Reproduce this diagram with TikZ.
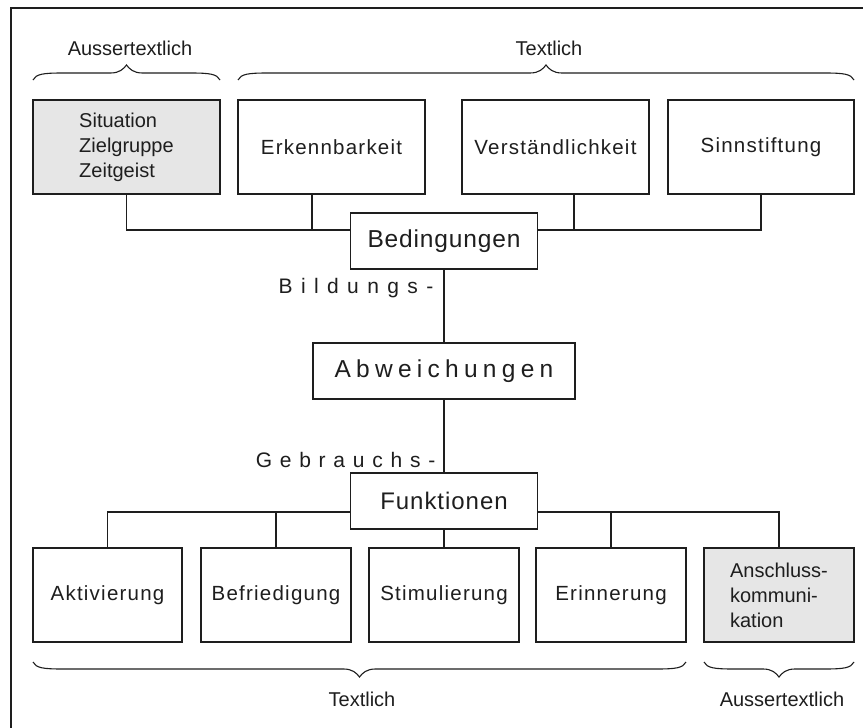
\documentclass[tikz,border=0pt]{standalone}
\usepackage{fontspec}
\setmainfont{Liberation Sans}
\newfontfamily\fBox[LetterSpace=6]{Liberation Sans}
\newfontfamily\fMulti{Liberation Sans}
\newfontfamily\fMid[LetterSpace=3.5]{Liberation Sans}
\newfontfamily\fFkt[LetterSpace=4]{Liberation Sans}
\newfontfamily\fAbw[LetterSpace=21.5]{Liberation Sans}
\newfontfamily\fWideA[LetterSpace=40]{Liberation Sans}
\newfontfamily\fWideB[LetterSpace=37]{Liberation Sans}
\newfontfamily\fLab{Liberation Sans}
\definecolor{boxgray}{HTML}{E6E6E6}
\definecolor{ink}{HTML}{1E1E1E}
\newcommand\mybrace[4]{%
  \pgfmathsetmacro\bxm{(#1+#2)/2}%
  \pgfmathsetmacro\bh{(#2-#1)/2}%
  \begin{scope}[shift={(\bxm,#3)},yscale=#4]
    \draw[bracestyle] (-\bh,7) .. controls (-\bh+3,1) and (-\bh+10,0) .. (-\bh+30,0)
      -- (-16,0) .. controls (-7,0) and (-3,-4) .. (0,-8)
      .. controls (3,-4) and (7,0) .. (16,0)
      -- (\bh-30,0) .. controls (\bh-10,0) and (\bh-3,1) .. (\bh,7);
  \end{scope}}
\begin{document}
\begin{tikzpicture}[x=1pt,y=-1pt,
  line width=1.2pt, draw=ink,
  bracestyle/.style={line width=1.1pt, draw=ink},
  base/.style={draw=ink, line width=1.2pt, rectangle, inner sep=0pt, text=ink, fill=white},
  tbox/.style={base, minimum width=187pt, minimum height=94pt, font=\fBox\fontsize{20.5}{25}\selectfont},
  bbox/.style={base, minimum width=150pt, minimum height=94pt, font=\fBox\fontsize{20.5}{25}\selectfont},
  mbox/.style={align=left, font=\fMulti\fontsize{20}{25}\selectfont, fill=boxgray},
  hbox/.style={base, minimum width=187pt, minimum height=56pt, font=\fMid\fontsize{24.5}{28}\selectfont},
  abox/.style={base, minimum width=262pt, minimum height=56pt, font=\fAbw\fontsize{24.5}{28}\selectfont},
  wlab/.style={anchor=east, inner sep=0pt, text=ink},
  glab/.style={inner sep=0pt, text=ink, font=\fLab\fontsize{20}{24}\selectfont}]
\useasboundingbox (0,0) rectangle (863,728);
\clip (0,0) rectangle (863,728);
\fill[white] (0,0) rectangle (863,728);
\draw[line width=1.2pt] (11,8) rectangle (880,745);

% top row
\node[tbox,mbox] (sit) at (126.5,147) {Situation\\Zielgruppe\\Zeitgeist};
\node[tbox] (erk) at (331.5,147) {Erkennbarkeit};
\node[tbox] (ver) at (555.5,147) {Verständlichkeit};
\node[tbox, minimum width=186pt] (sinn) at (761,147) {Sinnstiftung};

% centre column
\node[hbox] (bed) at (444,241) {Bedingungen};
\node[abox] (abw) at (444,371) {Abweichungen};
\node[hbox, font=\fFkt\fontsize{24}{28}\selectfont] (fkt) at (444,501) {Funktionen};

% bottom row
\node[bbox, minimum width=149pt] (akt) at (107.5,595) {Aktivierung};
\node[bbox] (bef) at (276,595) {Befriedigung};
\node[bbox] (sti) at (444,595) {Stimulierung};
\node[bbox] (eri) at (611,595) {Erinnerung};
\node[bbox,mbox] (ans) at (779,595) {Anschluss-\\kommuni-\\kation};

% connectors
\coordinate (hT) at (0,230);
\coordinate (hB) at (0,512);
\draw (sit.south) |- (bed.west |- hT);
\draw ([xshift=-19.5pt]erk.south) -- ++(0,36);
\draw (sinn.south) |- (bed.east |- hT);
\draw ([xshift=18.5pt]ver.south) -- ++(0,36);
\draw (bed) -- (abw);
\draw (abw) -- (fkt);
\draw (akt.north) |- (fkt.west |- hB);
\draw (bef.north) -- ++(0,-36);
\draw (fkt) -- (sti);
\draw (ans.north) |- (fkt.east |- hB);
\draw (eri.north) -- ++(0,-36);

% side labels
\node[wlab, font=\fWideA\fontsize{21}{24}\selectfont] (bild) at (434,288) {Bildungs-};
\node[wlab, font=\fWideB\fontsize{21}{24}\selectfont] (gebr) at (436,460) {Gebrauchs-};

% braces and group labels
\mybrace{33}{220}{73}{1}
\mybrace{238}{854}{73}{1}
\mybrace{33}{686}{669}{-1}
\mybrace{704}{854}{669}{-1}
\node[glab] (lA1) at (130,48) {Aussertextlich};
\node[glab] (lT1) at (549,48) {Textlich};
\node[glab] (lT2) at (362,699) {Textlich};
\node[glab] (lA2) at (782,699) {Aussertextlich};
\end{tikzpicture}
\end{document}
